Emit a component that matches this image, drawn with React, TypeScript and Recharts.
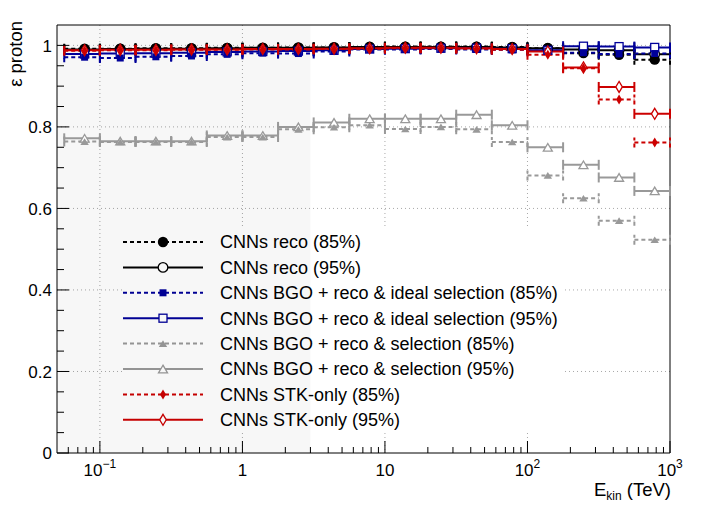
import React from 'react';
import { ScatterChart, Scatter, XAxis, YAxis, CartesianGrid, ErrorBar, ReferenceArea, Customized } from 'recharts';

// bin edges in kinetic energy (TeV), 4 bins per decade
const binEdges = [0.0562, 0.1, 0.1778, 0.3162, 0.5623, 1, 1.778, 3.162, 5.623, 10, 17.78, 31.62, 56.23, 100, 177.8, 316.2, 562.3, 1000];

const reco85 = [0.992, 0.992, 0.993, 0.993, 0.994, 0.994, 0.995, 0.995, 0.996, 0.997, 0.997, 0.997, 0.996, 0.993, 0.981, 0.977, 0.965];
const reco95 = [0.990, 0.991, 0.992, 0.992, 0.993, 0.994, 0.994, 0.995, 0.996, 0.996, 0.996, 0.996, 0.995, 0.993, 0.990, 0.988, 0.978];
const bgoIdeal85 = [0.971, 0.969, 0.972, 0.974, 0.978, 0.981, 0.980, 0.985, 0.990, 0.990, 0.991, 0.990, 0.989, 0.986, 0.982, 0.979, 0.980];
const bgoIdeal95 = [0.979, 0.980, 0.981, 0.982, 0.984, 0.985, 0.986, 0.988, 0.991, 0.992, 0.993, 0.993, 0.992, 0.988, 0.998, 0.997, 0.995];
const bgoSel85 = [0.764, 0.763, 0.763, 0.763, 0.775, 0.775, 0.794, 0.799, 0.804, 0.795, 0.800, 0.794, 0.763, 0.681, 0.625, 0.570, 0.523];
const bgoSel95 = [0.772, 0.765, 0.765, 0.765, 0.779, 0.779, 0.800, 0.811, 0.820, 0.820, 0.820, 0.830, 0.804, 0.750, 0.707, 0.676, 0.643];
const stk85 = [0.987, 0.988, 0.988, 0.989, 0.989, 0.990, 0.990, 0.991, 0.992, 0.993, 0.993, 0.992, 0.989, 0.977, 0.944, 0.867, 0.762];
const stk95 = [0.988, 0.989, 0.989, 0.990, 0.990, 0.991, 0.991, 0.992, 0.993, 0.994, 0.994, 0.993, 0.991, 0.985, 0.946, 0.898, 0.832];

const seriesNames = [
  'CNNs reco (85%)',
  'CNNs reco (95%)',
  'CNNs BGO + reco & ideal selection (85%)',
  'CNNs BGO + reco & ideal selection (95%)',
  'CNNs BGO + reco & selection (85%)',
  'CNNs BGO + reco & selection (95%)',
  'CNNs STK-only (85%)',
  'CNNs STK-only (95%)',
];

const xDomain = [0.05, 1000];
const yDomain = [0, 1.05];
const shadedRange = [0.05, 3];
const majorXTicks = [0.1, 1, 10, 100, 1000];
const xTickBases = ['10', '1', '10', '10', '10'];
const xTickExps = ['\u22121', '', '', '2', '3'];
const majorYTicks = [0, 0.2, 0.4, 0.6, 0.8, 1];
const yTickLabels = ['0', '0.2', '0.4', '0.6', '0.8', '1'];

const FONT = '"Liberation Sans", Arial, Helvetica, sans-serif';
const BLACK = '#000000';
const BLUE = '#000099';
const GRAY = '#999999';
const RED = '#cc0000';

type Shape = 'circle' | 'square' | 'triangle' | 'diamond';

const styles: { values: number[]; color: string; shape: Shape; filled: boolean; dashed: boolean }[] = [
  { values: reco85, color: BLACK, shape: 'circle', filled: true, dashed: true },
  { values: reco95, color: BLACK, shape: 'circle', filled: false, dashed: false },
  { values: bgoIdeal85, color: BLUE, shape: 'square', filled: true, dashed: true },
  { values: bgoIdeal95, color: BLUE, shape: 'square', filled: false, dashed: false },
  { values: bgoSel85, color: GRAY, shape: 'triangle', filled: true, dashed: true },
  { values: bgoSel95, color: GRAY, shape: 'triangle', filled: false, dashed: false },
  { values: stk85, color: RED, shape: 'diamond', filled: true, dashed: true },
  { values: stk95, color: RED, shape: 'diamond', filled: false, dashed: false },
];

// paint order: within each pair the open (95%) markers go first so filled ones stay visible
const drawOrder = [1, 0, 3, 2, 5, 4, 7, 6];

function toRows(values: number[]) {
  return values.map((v, i) => {
    const lo = binEdges[i];
    const hi = binEdges[i + 1];
    const c = (lo + hi) / 2;
    return { x: c, y: v, xerr: [c - lo, hi - c] };
  });
}

function Marker({ cx, cy, shape, filled, color }: any) {
  if (cx == null || cy == null) return null;
  const fill = filled ? color : '#ffffff';
  const sw = filled ? 0 : 1.3;
  if (shape === 'circle') {
    return <circle cx={cx} cy={cy} r={filled ? 5.2 : 4.8} fill={fill} stroke={color} strokeWidth={sw} />;
  }
  if (shape === 'square') {
    const s = filled ? 7 : 8;
    return <rect x={cx - s / 2} y={cy - s / 2} width={s} height={s} fill={fill} stroke={color} strokeWidth={sw} />;
  }
  if (shape === 'triangle') {
    const w = filled ? 4.2 : 4.5;
    const h = filled ? 3.3 : 3.8;
    return <polygon points={`${cx},${cy - h} ${cx + w},${cy + h} ${cx - w},${cy + h}`} fill={fill} stroke={color} strokeWidth={sw} />;
  }
  const w = filled ? 3 : 3.3;
  const h = filled ? 5 : 5.5;
  return <polygon points={`${cx},${cy - h} ${cx + w},${cy} ${cx},${cy + h} ${cx - w},${cy}`} fill={fill} stroke={color} strokeWidth={sw} />;
}

function isMajor(list: number[], v: number) {
  return list.findIndex((t) => Math.abs(t - v) <= Math.max(Math.abs(t), 1) * 1e-6);
}

function XTick({ x, y, payload }: any) {
  const idx = isMajor(majorXTicks, payload.value);
  const major = idx >= 0;
  return (
    <g>
      <line x1={x} x2={x} y1={y} y2={y - (major ? 12 : 6)} stroke="#000" strokeWidth={1} />
      {major && (
        <text x={x} y={y + 23} textAnchor="middle" fontSize={17} fontFamily={FONT} fill="#000">
          {xTickBases[idx]}
          {xTickExps[idx] && (
            <tspan dy={-8} fontSize={12}>
              {xTickExps[idx]}
            </tspan>
          )}
        </text>
      )}
    </g>
  );
}

function YTick({ x, y, payload }: any) {
  const idx = isMajor(majorYTicks, payload.value);
  const major = idx >= 0;
  return (
    <g>
      <line x1={x} x2={x + (major ? 12 : 7)} y1={y} y2={y} stroke="#000" strokeWidth={1} />
      {major && (
        <text x={x - 5} y={y} dy="0.36em" textAnchor="end" fontSize={17} fontFamily={FONT} fill="#000">
          {yTickLabels[idx]}
        </text>
      )}
    </g>
  );
}

// legend and axis titles, placed like the ROOT canvas
function Decorations() {
  return (
    <g>
      <rect x={122} y={229} width={442} height={203} fill="#ffffff" />
      {styles.map((s, i) => {
        const cy = 242 + i * 25.4;
        return (
          <g key={i}>
            <line x1={123} x2={203} y1={cy} y2={cy} stroke={s.color} strokeWidth={2} strokeDasharray={s.dashed ? '4 3' : undefined} />
            <Marker cx={163} cy={cy} shape={s.shape} filled={s.filled} color={s.color} />
            <text x={220} y={cy} dy="0.36em" fontSize={18} fontFamily={FONT} fill="#000">
              {seriesNames[i]}
            </text>
          </g>
        );
      })}
      <text x={22} y={21} transform="rotate(-90 22 21)" textAnchor="end" fontSize={18.5} fontFamily={FONT} fill="#000">
        {'\u03b5 proton'}
      </text>
      <text x={671} y={496} textAnchor="end" fontSize={18.5} fontFamily={FONT} fill="#000">
        E
        <tspan dy={4} fontSize={12}>kin</tspan>
        <tspan dy={-4}> (TeV)</tspan>
      </text>
    </g>
  );
}

export default function App() {
  const minorX: number[] = [];
  [0.01, 0.1, 1, 10, 100].forEach((d) => {
    for (let m = 2; m <= 9; m++) {
      const v = +(d * m).toPrecision(3);
      if (v > xDomain[0] && v < xDomain[1]) minorX.push(v);
    }
  });
  const xTicks = [...majorXTicks, ...minorX].sort((a, b) => a - b);
  const yTicks: number[] = [];
  for (let i = 0; i <= 20; i++) yTicks.push(+(i * 0.05).toFixed(2));

  return (
    <div style={{ position: 'absolute', left: 0, top: 0, width: 706, height: 509, background: '#fff' }}>
      <ScatterChart width={706} height={509} margin={{ top: 25, right: 36, bottom: 0, left: 0 }}>
        <CartesianGrid
          horizontalValues={[0.2, 0.4, 0.6, 0.8, 1]}
          verticalValues={[0.1, 1, 10, 100]}
          stroke="#a8a8a8"
          strokeDasharray="1 3"
        />
        <XAxis
          dataKey="x"
          type="number"
          scale="log"
          domain={xDomain}
          allowDataOverflow
          ticks={xTicks}
          interval={0}
          height={56}
          tickSize={0}
          tickMargin={0}
          tickLine={false}
          axisLine={false}
          tick={<XTick />}
        />
        <YAxis
          dataKey="y"
          type="number"
          domain={yDomain}
          allowDataOverflow
          ticks={yTicks}
          interval={0}
          width={57}
          tickSize={0}
          tickMargin={0}
          tickLine={false}
          axisLine={false}
          tick={<YTick />}
        />
        {drawOrder.map((i) => {
          const s = styles[i];
          return (
            <Scatter
              key={i}
              name={seriesNames[i]}
              data={toRows(s.values)}
              isAnimationActive={false}
              shape={(p: any) => <Marker cx={p.cx} cy={p.cy} shape={s.shape} filled={s.filled} color={s.color} />}
            >
              <ErrorBar
                dataKey="xerr"
                direction="x"
                width={5}
                stroke={s.color}
                strokeWidth={2}
                strokeDasharray={s.dashed ? '4 3' : undefined}
                isAnimationActive={false}
              />
            </Scatter>
          );
        })}
        <Customized component={Decorations} />
        <ReferenceArea x1={shadedRange[0]} x2={shadedRange[1]} y1={yDomain[0]} y2={yDomain[1]} fill="#000" fillOpacity={0.03} stroke="none" />
        <ReferenceArea x1={xDomain[0]} x2={xDomain[1]} y1={yDomain[0]} y2={yDomain[1]} fill="none" fillOpacity={0} stroke="#000" strokeWidth={1} />
      </ScatterChart>
    </div>
  );
}
